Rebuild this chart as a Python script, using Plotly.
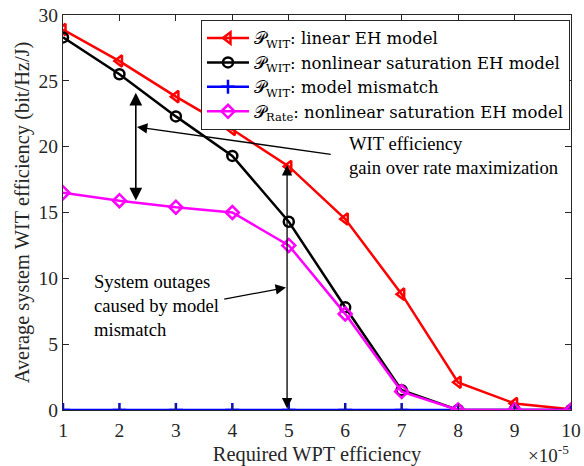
import plotly.graph_objects as go

# ── Data ───────────────────────────────────────────────────────────────────────
wpt_eff = [1, 2, 3, 4, 5, 6, 7, 8, 9, 10]  # x 1e-5
wit_linear = [28.9, 26.5, 23.8, 21.3, 18.5, 14.5, 8.8, 2.1, 0.5, 0.05]
wit_nonlinear = [28.3, 25.5, 22.3, 19.3, 14.3, 7.8, 1.5, 0.0, 0.0, 0.0]
wit_mismatch = [0, 0, 0, 0, 0, 0, 0, 0, 0, 0]
rate_nonlinear = [16.5, 15.9, 15.4, 15.0, 12.5, 7.3, 1.4, 0.0, 0.0, 0.0]

FONT = "Liberation Serif, Times New Roman, serif"
LEG_FONT = "DejaVu Serif, serif"
P = "\U0001D4AB"

series = [
    (wit_linear, f"{P}<sub>WIT</sub>: linear EH model", "#ff0000", "triangle-left-open"),
    (wit_nonlinear, f"{P}<sub>WIT</sub>: nonlinear saturation EH model", "#000000", "circle-open"),
    (wit_mismatch, f"{P}<sub>WIT</sub>: model mismatch", "#0000ff", "cross-thin-open"),
    (rate_nonlinear, f"{P}<sub>Rate</sub>: nonlinear saturation EH model", "#ff00ff", "diamond-open"),
]

fig = go.Figure()
for ys, name, color, symbol in series:
    fig.add_scatter(
        x=wpt_eff,
        y=ys,
        name=name,
        mode="lines+markers",
        line=dict(color=color, width=2.5),
        marker=dict(symbol=symbol, size=10, color=color, line=dict(color=color, width=2.5)),
    )


def arrow(x0, y0, x1, y1, both=False, width=1.3):
    fig.add_annotation(
        x=x1, y=y1, ax=x0, ay=y0,
        xref="x", yref="y", axref="x", ayref="y",
        text="", showarrow=True,
        arrowhead=2, arrowsize=1.6, arrowwidth=width, arrowcolor="black",
        arrowside="end+start" if both else "end",
    )


arrow(2.29, 15.8, 2.29, 24.1, both=True, width=1.6)
arrow(5.77, 19.4, 2.31, 21.5)
arrow(4.97, 0.0, 4.97, 18.6, both=True)
arrow(3.83, 8.4, 4.95, 9.3)

fig.add_annotation(
    x=6.03, y=19.3, xref="x", yref="y", xanchor="left", yanchor="middle",
    text="WIT efficiency<br>gain over rate maximization", showarrow=False, align="left",
    font=dict(family=FONT, size=18.6, color="black"),
)
fig.add_annotation(
    x=1.51, y=7.9, xref="x", yref="y", xanchor="left", yanchor="middle",
    text="System outages<br>caused by model<br>mismatch", showarrow=False, align="left",
    font=dict(family=FONT, size=18.6, color="black"),
)
fig.add_annotation(
    x=1.0, y=-0.112, xref="paper", yref="paper", xanchor="right", yanchor="middle",
    text="\u00d710<sup>-5</sup>", showarrow=False,
    font=dict(family=FONT, size=19, color="#262626"),
)

axis_common = dict(
    showline=True, linecolor="#262626", linewidth=1, mirror="ticks",
    ticks="inside", ticklen=6, tickcolor="#262626",
    showgrid=False, zeroline=False, automargin=False,
    tickfont=dict(family=FONT, size=19.5, color="#262626"),
)

fig.update_xaxes(
    range=[1, 10], tickvals=wpt_eff, ticklabelstandoff=3,
    title=dict(text="Required WPT efficiency", font=dict(family=FONT, size=20.4, color="#262626"), standoff=7),
    **axis_common,
)
fig.update_yaxes(
    range=[0, 30], tickvals=[0, 5, 10, 15, 20, 25, 30],
    title=dict(text="Average system WIT efficiency (bit/Hz/J)", font=dict(family=FONT, size=20.4, color="#262626"), standoff=3),
    **axis_common,
)

fig.update_layout(
    width=584,
    height=466,
    margin=dict(l=63, r=13, t=15, b=56),
    plot_bgcolor="white",
    paper_bgcolor="white",
    font=dict(family=FONT, size=18, color="black"),
    showlegend=True,
    legend=dict(
        x=0.998, y=0.988, xanchor="right", yanchor="top",
        bgcolor="white", bordercolor="#262626", borderwidth=1,
        font=dict(family=LEG_FONT, size=16.5, color="black"),
        tracegroupgap=0, itemwidth=42,
    ),
)

fig.write_html(
    "out.html",
    config={"displayModeBar": False},
    post_script="document.body.style.margin='0';document.body.style.overflow='hidden';",
)
